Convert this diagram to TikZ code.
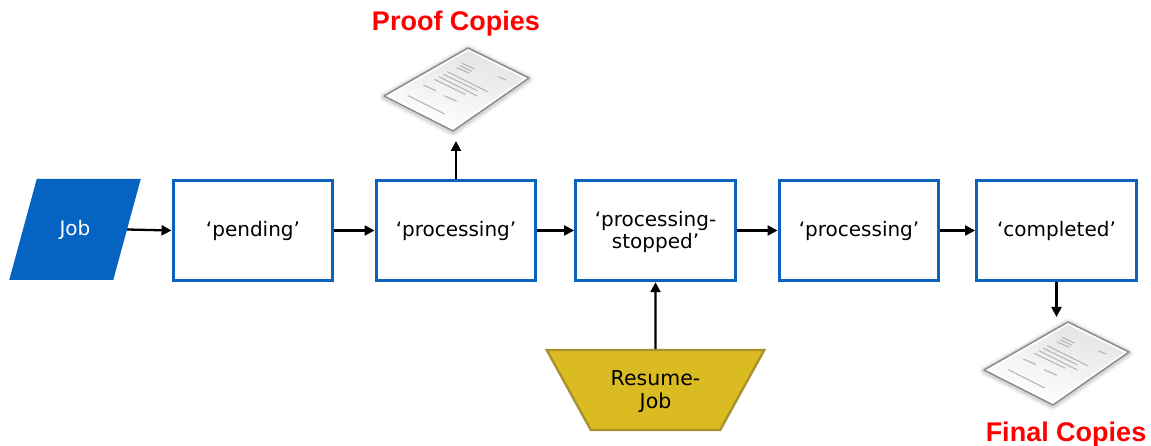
\documentclass[tikz,border=0pt]{standalone}
\usepackage{fontspec}
\setmainfont{DejaVu Sans}
\newfontfamily\labelfont{Liberation Sans}
\usetikzlibrary{arrows.meta,shapes.geometric}
\definecolor{boxblue}{HTML}{0A63BE}
\definecolor{jobblue}{HTML}{0563C1}
\definecolor{gold}{HTML}{DBBB22}
\definecolor{golddark}{HTML}{A8922E}
\newcommand{\low}[1]{\raisebox{-1.3pt}{#1}}
\newcommand{\lowr}[1]{\raisebox{-2pt}[\height][\depth]{#1}}
\newcommand{\lows}[1]{\raisebox{-1.5pt}[\height][\depth]{#1}}
\tikzset{
  statebox/.style={draw=boxblue,line width=3.4pt,fill=white,minimum width=159.5pt,minimum height=100pt,inner sep=0pt,align=center,font=\fontsize{20}{22.5}\selectfont,text=black},
  jobshape/.style={trapezium,trapezium stretches=true,trapezium left angle=60,trapezium right angle=120,fill=jobblue,minimum width=132pt,minimum height=101pt,inner sep=0pt,text=white,font=\fontsize{20}{23}\selectfont},
  resumeshape/.style={trapezium,trapezium stretches=true,shape border rotate=180,trapezium left angle=54,trapezium right angle=54,draw=golddark,line width=2.4pt,fill=gold,minimum width=218pt,minimum height=80pt,inner sep=0pt,align=center,font=\fontsize{20.5}{23}\selectfont},
  flow/.style={line width=2.3pt,-{Triangle[length=10pt,width=10pt]},shorten >=0pt},
  redlabel/.style={text=red,font=\labelfont\fontsize{27}{32}\selectfont\bfseries,inner sep=0pt},
  docline/.style={line width=1pt,black!30},
}
\newcommand{\paperdoc}[2]{%
  \begin{scope}[shift={(#1,#2)}]
    \foreach \w/\o in {10/0.03,7/0.05,4.5/0.08}{
      \draw[line width=\w pt,black,opacity=\o,line join=round] (468,49)--(529,79)--(453,132)--(384,97)--cycle;
    }
    \draw[line width=1.5pt,fill=white,draw=black!45,line join=round] (468,48)--(529,78)--(453,131)--(384,96)--cycle;
    \shade[top color=black!11,bottom color=white,shading angle=-15] (468,51)--(524,78.5)--(453,127)--(390,96)--cycle;
    \foreach \a/\b/\c/\d in {462.3/63.3/474.3/69,460/65.7/471.7/71.3,456.7/67.7/469.3/73.3,447.3/71.7/487.7/91.7,443.3/74.3/477.3/90.7,439/76.7/477.3/96,434.3/79.3/465.3/94.3,423.3/85/436/90.7,444/95.7/456.7/101.3,408.3/95.7/444.7/114,498.3/76.7/505.7/80}{
      \draw[docline] (\a,\b)--(\c,\d);
    }
  \end{scope}}
\begin{document}
\begin{tikzpicture}[x=1pt,y=-1pt]
\useasboundingbox (0,0) rectangle (1151,446);
\paperdoc{0}{0}
\paperdoc{600}{274}
\node[jobshape] (job) at (75,229.5) {\low{Job}};
\node[statebox] (pending) at (253,230.5) {\low{‘pending’}};
\node[statebox] (proc1) at (456,230.5) {\low{‘processing’}};
\node[statebox] (stopped) at (655.5,230.5) {\lows{‘processing-}\\\lows{stopped’}};
\node[statebox] (proc2) at (859,230.5) {\low{‘processing’}};
\node[statebox] (completed) at (1056.5,230.5) {\low{‘completed’}};
\node[resumeshape] (resume) at (655.5,390) {\lowr{Resume-}\\\lowr{Job}};
\node[redlabel] (proof) at (456,24) {Proof Copies};
\node[redlabel] (final) at (1066,435) {Final Copies};
\coordinate (proofdoc) at (456,141);
\coordinate (finaldoc) at (1056.5,317);
\draw[flow] (job.east) -- (pending.west);
\draw[flow] (pending.east) -- (proc1.west);
\draw[flow] (proc1.east) -- (stopped.west);
\draw[flow] (stopped.east) -- (proc2.west);
\draw[flow] (proc2.east) -- (completed.west);
\draw[flow] (proc1.north) -- (proofdoc);
\draw[flow] (completed.south) -- (finaldoc);
\draw[flow] (resume.north) -- (stopped.south);
\end{tikzpicture}
\end{document}
